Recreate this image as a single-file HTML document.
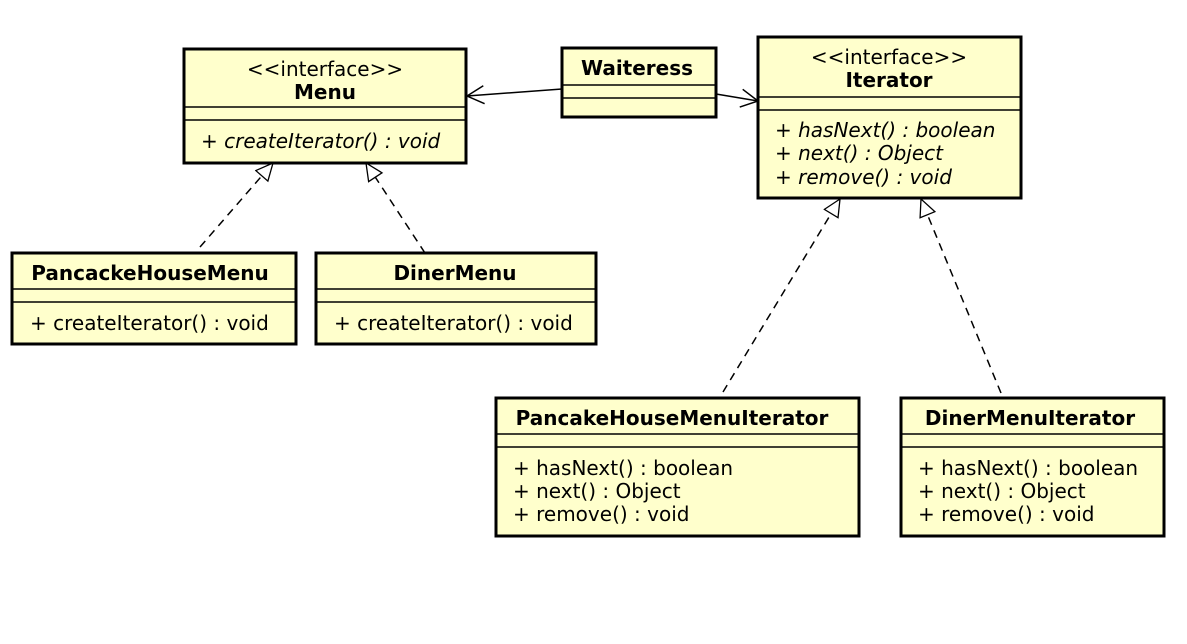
<!DOCTYPE html>
<html><head><meta charset="utf-8"><style>
html,body{margin:0;padding:0;background:#fff;}
svg{display:block;}
text{font-family:"DejaVu Sans","Liberation Sans",sans-serif;font-size:20px;fill:#000;}
.b{font-weight:bold;}
.i{font-style:italic;}
.box{fill:#ffffcc;stroke:#000;stroke-width:3;}
.sep{stroke:#000;stroke-width:1.5;}
.dash{stroke:#000;stroke-width:1.5;stroke-dasharray:8,6;fill:none;}
.ln{stroke:#000;stroke-width:1.5;fill:none;}
</style></head><body>
<svg width="1187" height="644" viewBox="0 0 1187 644" xmlns="http://www.w3.org/2000/svg">
<defs>
<marker id="tri" markerUnits="userSpaceOnUse" markerWidth="22" markerHeight="22" refX="18" refY="9" orient="auto">
<path d="M1,1 L18,9 L1,17 Z" fill="#fff" stroke="#000" stroke-width="1.3"/>
</marker>
<marker id="open" markerUnits="userSpaceOnUse" markerWidth="22" markerHeight="22" refX="18" refY="10" orient="auto">
<path d="M1,1 L18,10 L1,19" fill="none" stroke="#000" stroke-width="1.5"/>
</marker>
</defs>

<line class="ln" x1="562" y1="89" x2="467" y2="96" marker-end="url(#open)"/>
<line class="ln" x1="716" y1="94" x2="758" y2="101" marker-end="url(#open)"/>
<line class="dash" x1="200" y1="247" x2="273" y2="163" marker-end="url(#tri)"/>
<line class="dash" x1="425" y1="253" x2="366" y2="163" marker-end="url(#tri)"/>
<line class="dash" x1="723" y1="392" x2="840" y2="199" marker-end="url(#tri)"/>
<line class="dash" x1="1001" y1="393" x2="921" y2="199" marker-end="url(#tri)"/>

<rect class="box" x="184" y="49" width="282" height="114"/>
<line class="sep" x1="184" y1="107" x2="466" y2="107"/>
<line class="sep" x1="184" y1="120" x2="466" y2="120"/>
<text x="325" y="76" text-anchor="middle">&lt;&lt;interface&gt;&gt;</text>
<text x="325" y="99" text-anchor="middle" class="b">Menu</text>
<text x="201" y="148" class="i">+ createIterator() : void</text>

<rect class="box" x="562" y="48" width="154" height="69"/>
<line class="sep" x1="562" y1="85" x2="716" y2="85"/>
<line class="sep" x1="562" y1="98" x2="716" y2="98"/>
<text x="637" y="75" text-anchor="middle" class="b">Waiteress</text>

<rect class="box" x="758" y="37" width="263" height="161"/>
<line class="sep" x1="758" y1="97" x2="1021" y2="97"/>
<line class="sep" x1="758" y1="110" x2="1021" y2="110"/>
<text x="889" y="64" text-anchor="middle">&lt;&lt;interface&gt;&gt;</text>
<text x="889" y="87" text-anchor="middle" class="b">Iterator</text>
<text x="775" y="137" class="i">+ hasNext() : boolean</text>
<text x="775" y="160" class="i">+ next() : Object</text>
<text x="775" y="184" class="i">+ remove() : void</text>

<rect class="box" x="12" y="253" width="284" height="91"/>
<line class="sep" x1="12" y1="289" x2="296" y2="289"/>
<line class="sep" x1="12" y1="302" x2="296" y2="302"/>
<text x="150" y="280" text-anchor="middle" class="b">PancackeHouseMenu</text>
<text x="30" y="330">+ createIterator() : void</text>

<rect class="box" x="316" y="253" width="280" height="91"/>
<line class="sep" x1="316" y1="289" x2="596" y2="289"/>
<line class="sep" x1="316" y1="302" x2="596" y2="302"/>
<text x="455" y="280" text-anchor="middle" class="b">DinerMenu</text>
<text x="334" y="330">+ createIterator() : void</text>

<rect class="box" x="496" y="398" width="363" height="138"/>
<line class="sep" x1="496" y1="434" x2="859" y2="434"/>
<line class="sep" x1="496" y1="447" x2="859" y2="447"/>
<text x="672" y="425" text-anchor="middle" class="b">PancakeHouseMenuIterator</text>
<text x="513" y="475">+ hasNext() : boolean</text>
<text x="513" y="498">+ next() : Object</text>
<text x="513" y="521">+ remove() : void</text>

<rect class="box" x="901" y="398" width="263" height="138"/>
<line class="sep" x1="901" y1="434" x2="1164" y2="434"/>
<line class="sep" x1="901" y1="447" x2="1164" y2="447"/>
<text x="1030" y="425" text-anchor="middle" class="b">DinerMenuIterator</text>
<text x="918" y="475">+ hasNext() : boolean</text>
<text x="918" y="498">+ next() : Object</text>
<text x="918" y="521">+ remove() : void</text>
</svg>
</body></html>
